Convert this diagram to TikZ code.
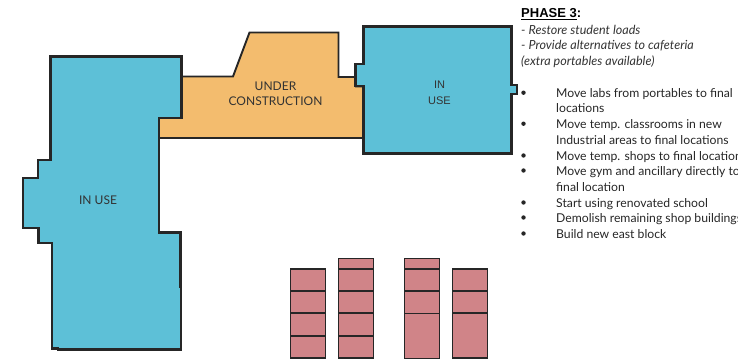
\documentclass[tikz,border=0pt]{standalone}
\usepackage{fontspec}
\setmainfont{Lato}
\newfontfamily\arialf{Liberation Sans}
\begin{document}
\begin{tikzpicture}[x=1pt,y=-1pt,
  wing/.style={draw=black!85,line width=2.2pt,line join=miter,miter limit=4},
  blue/.style={wing,fill=blueF},
  lab/.style={font=\fontsize{12}{12}\selectfont,text=black!80,inner sep=0pt,anchor=center,align=center},
  item/.style={font=\fontsize{12.2}{12}\selectfont,text=black!85,inner sep=0pt,anchor=base west},
  note/.style={font=\fontsize{12.55}{12}\selectfont\itshape,text=black!80,inner sep=0pt,anchor=base west},
  dot/.style={fill=black!85,circle,minimum size=4.4pt,inner sep=0pt},
  port/.style={draw=black!85,fill=roseF,line width=1.1pt}]
\definecolor{blueF}{RGB}{93,192,215}
\definecolor{orangeF}{RGB}{243,188,110}
\definecolor{roseF}{RGB}{208,132,136}
\useasboundingbox (0,0) rectangle (738,361);
% orange wing
\draw[wing,fill=orangeF,line width=1.9pt] (181.5,76.5) -- (233,76.5) -- (249.5,32.5) -- (338.5,32.5) -- (338.5,77) -- (356,77) -- (356,86.5) -- (363.5,86.5) -- (363.5,138) -- (159,138) -- (159,118) -- (181.5,118) -- cycle;
% left block
\draw[blue] (50.5,56.5) -- (181.5,56.5) -- (181.5,118) -- (159,118) -- (159,232.5) -- (180.5,232.5) -- (180.5,287) -- (181.2,287) -- (181.2,349.5) -- (58,349.5) -- (58,348.5) -- (52,348.5) -- (52,243) -- (38.5,243) -- (38.5,228) -- (23,228) -- (23,178) -- (38,178) -- (38,160) -- (50.5,160) -- cycle;
% right block
\draw[blue,line width=2.8pt] (363.5,26.5) -- (511.7,26.5) -- (511.7,85) -- (517,85) -- (517,94) -- (511.7,94) -- (511.7,153.5) -- (363.5,153.5) -- (363.5,86) -- (355.5,86) -- (355.5,64) -- (363.5,64) -- cycle;
% labels
\node[lab] (uc) at (275.5,93.5) {UNDER\\[3pt]CONSTRUCTION};
\node[lab] (iu1) at (98,200.5) {IN USE};
\node[lab,font=\arialf\fontsize{11}{12}\selectfont] (iu2) at (439.5,93) {IN\\[4pt]USE};
% portables
\foreach \nm/\xa/\ylist in {a/290.3/{269,291,313,336,358},b/338.5/{258.5,269,291,313,336,358},c/404.5/{258.5,269,291,313.5,358.5},d/452.3/{269,291,313,358}}{
  \foreach \ya [remember=\ya as \yb (initially -1)] in \ylist {
    \ifdim\yb pt>0pt
      \draw[port] (\xa,\yb) rectangle (\xa+35.3,\ya);
    \fi
  }
}
% notes
\node[inner sep=0pt,anchor=base west,font=\arialf\fontsize{13}{12}\selectfont\bfseries] (ph) at (521,18) {\underline{PHASE 3}:};
\node[note] (n1) at (521,34.5) {- Restore student loads};
\node[note] (n2) at (521,50) {- Provide alternatives to cafeteria};
\node[note] (n3) at (521,65.5) {(extra portables available)};
% bullets
\foreach \nm/\yy/\txt in {a/97/{Move labs from portables to final},
  b/112.5/{locations},c/128.5/{Move temp. classrooms in new},d/144.5/{Industrial areas to final locations},
  e/160/{Move temp. shops to final locations},f/175/{Move gym and ancillary directly to},
  g/191/{final location},h/207/{Start using renovated school},i/222/{Demolish remaining shop buildings},j/238/{Build new east block}}{
  \node[item] (t\nm) at (556,\yy) {\txt};
}
\foreach \nm/\yy in {a/92.7,c/123.7,e/155.5,f/170.5,h/202.5,i/217.5,j/233.5}{
  \node[dot] (b\nm) at (523.5,\yy) {};
}
\end{tikzpicture}
\end{document}
